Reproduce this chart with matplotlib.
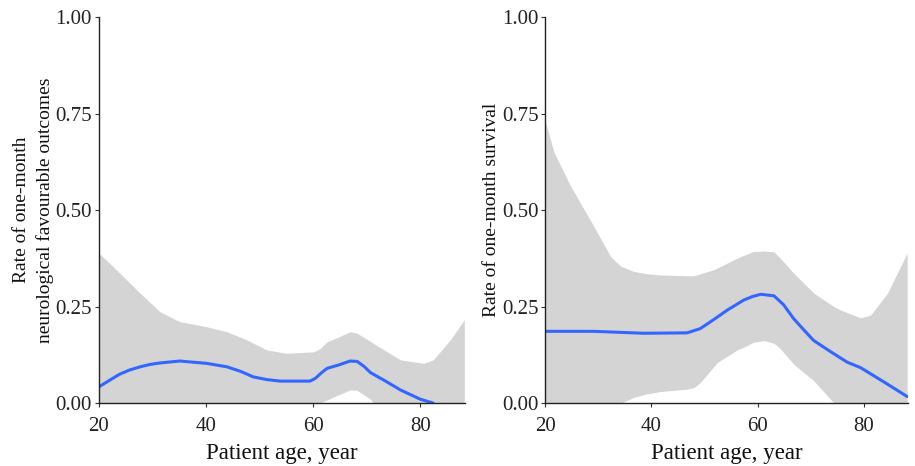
import matplotlib.pyplot as plt

plt.rcParams['font.family'] = ['Liberation Serif', 'DejaVu Serif']

# left panel: neurological favourable outcomes
neuro_age = [20, 22, 23.9, 25.8, 27.7, 29.5, 31.4, 35.1, 40.1, 43.9, 46.5, 48.8, 51.3, 53.8,
             59.4, 60.4, 61.5, 62.6, 64.8, 66.9, 68.2, 69.5, 70.7, 73.5, 76.3, 80.0, 82.4]
neuro_fit = [0.042, 0.059, 0.075, 0.086, 0.094, 0.100, 0.104, 0.109, 0.103, 0.094, 0.082,
             0.068, 0.061, 0.057, 0.057, 0.064, 0.078, 0.090, 0.099, 0.109, 0.108, 0.095,
             0.079, 0.057, 0.034, 0.010, 0.0]

neuro_band_age = [20, 23.9, 27.7, 31.4, 35.1, 40.1, 43.9, 47.6, 51.3, 55.1, 60.1, 61.2,
                  62.6, 64.5, 66.9, 68.2, 70.7, 71.2, 76.3, 80.6, 82.4, 85.6, 88.2]
neuro_upper = [0.389, 0.337, 0.285, 0.237, 0.211, 0.198, 0.185, 0.164, 0.138, 0.129, 0.133, 0.140,
               0.159, 0.170, 0.185, 0.181, 0.160, 0.155, 0.112, 0.103, 0.112, 0.164, 0.216]
neuro_lower = [-0.30, -0.24, -0.18, -0.14, -0.11, -0.09, -0.08, -0.07, -0.06, -0.05, -0.01, 0.0,
               0.008, 0.02, 0.034, 0.033, 0.01, 0.0, -0.05, -0.09, -0.11, -0.17, -0.25]

# right panel: one-month survival
surv_age = [20, 29.1, 38.5, 46.7, 49.2, 51.8, 54.3, 57.4, 59.0, 60.6, 63.1, 64.9, 66.8,
            68.7, 70.6, 73.8, 76.9, 79.4, 83.8, 88.2]
surv_fit = [0.186, 0.186, 0.181, 0.182, 0.193, 0.217, 0.241, 0.267, 0.276, 0.282, 0.278,
            0.255, 0.219, 0.190, 0.162, 0.133, 0.106, 0.092, 0.055, 0.017]

surv_band_age = [20, 21.6, 24.7, 29.1, 32.3, 34.2, 36.7, 39.2, 41.7, 46.7, 48.0, 49.2, 51.8,
                 52.4, 56.2, 57.4, 59.3, 61.2, 63.1, 64.3, 66.8, 70.6, 74.4, 75.7, 79.4,
                 81.3, 84.5, 88.2]
surv_upper = [0.730, 0.651, 0.564, 0.459, 0.380, 0.355, 0.341, 0.335, 0.332, 0.330, 0.330, 0.335,
              0.346, 0.350, 0.376, 0.383, 0.393, 0.394, 0.392, 0.375, 0.337, 0.285, 0.250,
              0.241, 0.221, 0.228, 0.285, 0.389]
surv_lower = [-0.35, -0.30, -0.22, -0.12, -0.05, 0.0, 0.015, 0.024, 0.030, 0.036, 0.040, 0.053,
              0.095, 0.105, 0.138, 0.145, 0.158, 0.162, 0.155, 0.141, 0.101, 0.058, 0.0,
              -0.02, -0.08, -0.12, -0.2, -0.3]

x_ticks = [20, 40, 60, 80]
y_ticks = [0.0, 0.25, 0.5, 0.75, 1.0]
y_labels = ["0.00", "0.25", "0.50", "0.75", "1.00"]

fig = plt.figure(figsize=(9.15, 4.66), dpi=100)
ax1 = fig.add_axes([0.108, 0.135, 0.400, 0.828])
ax2 = fig.add_axes([0.596, 0.135, 0.396, 0.828])

panels = [
    (ax1, neuro_band_age, neuro_lower, neuro_upper, neuro_age, neuro_fit,
     "Rate of one-month\nneurological favourable outcomes"),
    (ax2, surv_band_age, surv_lower, surv_upper, surv_age, surv_fit,
     "Rate of one-month survival"),
]

for ax, bx, lo, hi, lx, ly, ylab in panels:
    ax.fill_between(bx, lo, hi, color="#d4d4d4", linewidth=0)
    ax.plot(lx, ly, color="#3366FF", linewidth=2.2, solid_capstyle="round")
    ax.set_xlim(20, 88.3)
    ax.set_ylim(0, 1.0)
    ax.set_xticks(x_ticks)
    ax.set_yticks(y_ticks)
    ax.set_yticklabels(y_labels)
    for side in ["top", "right"]:
        ax.spines[side].set_visible(False)
    for side in ["left", "bottom"]:
        ax.spines[side].set_color("#222222")
        ax.spines[side].set_linewidth(1.0)
    ax.tick_params(axis="both", length=3, width=0.8, color="#333333",
                   labelsize=15, labelcolor="#222222", pad=2)
    ax.tick_params(axis="x", pad=7)
    ax.set_xlabel("Patient age, year", fontsize=16.5, color="#111111", labelpad=5)
    ax.set_ylabel(ylab, fontsize=14, color="#111111", labelpad=1, linespacing=1.45)

plt.savefig("out.png", dpi=100)
